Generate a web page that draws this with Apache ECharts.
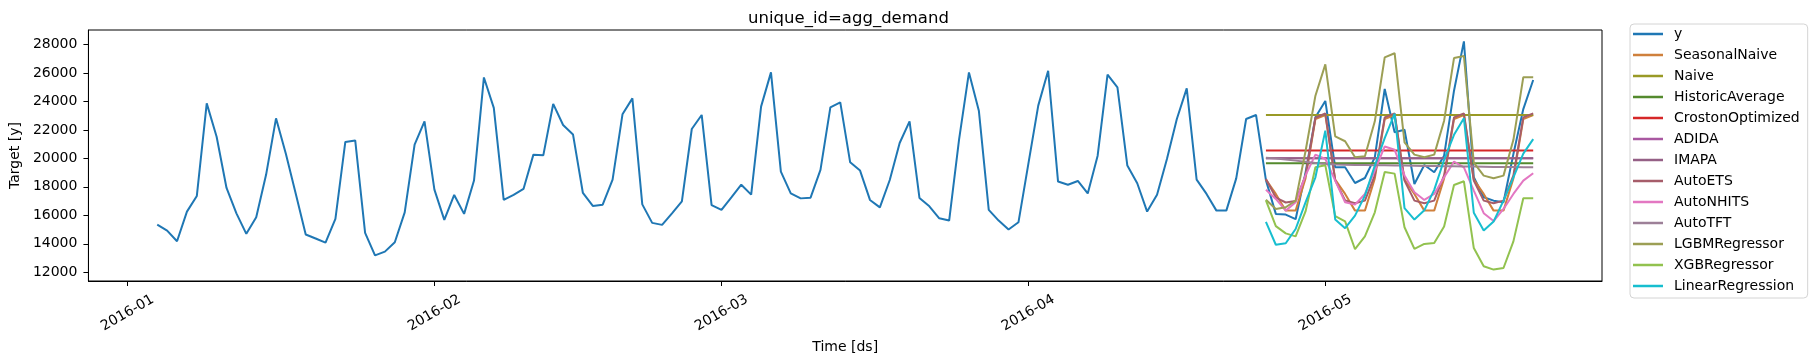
<!DOCTYPE html>
<html>
<head>
<meta charset="utf-8">
<script src="https://cdn.jsdelivr.net/npm/echarts@6/dist/echarts.min.js"></script>
<style>
html,body{margin:0;padding:0;background:#fff;}
#chart{width:1813px;height:361px;}
</style>
</head>
<body>
<div id="chart"></div>
<script>
// ---- data ----
const startDate = '2016-01-04';       // first observed day
const forecastStartIndex = 112;       // 2016-04-25

const xTickDates = ['2016-01-01','2016-02-01','2016-03-01','2016-04-01','2016-05-01'];
const xTickLabels = ['2016-01','2016-02','2016-03','2016-04','2016-05'];
const yTicks = [12000,14000,16000,18000,20000,22000,24000,26000,28000];

const y = [
15350,14930,14180,16260,17360,23860,21520,17920,16140,14700,
15860,18860,22810,20310,17500,14650,14370,14080,15750,21150,
21260,14770,13190,13450,14110,16210,20960,22600,17800,15680,
17430,16100,18440,25680,23540,17080,17430,17850,20260,20210,
23820,22340,21680,17570,16660,16750,18500,23090,24210,16770,
15470,15330,16140,16980,22060,23046,16715,16380,17260,18150,
17450,23630,26035,19070,17540,17190,17240,19190,23580,23930,
19720,19140,17080,16560,18480,21080,22600,17220,16630,15790,
15630,21310,26035,23350,16380,15630,15000,15510,19610,23700,
26150,18370,18150,18410,17540,20190,25870,24980,19490,18250,
16260,17450,19960,22765,24910,18505,17502,16330,16330,18596,
22765,23046,18470,16100,16050,15730,19000,22880,24030,19370,
19370,18270,18620,20070,24870,21830,22010,18200,19530,19020,
20190,24750,28210,18670,17270,17030,16920,20300,23460,25500
];

const SeasonalNaive = [
18505,17502,16330,16330,18596,22765,23046,
18505,17502,16330,16330,18596,22765,23046,
18505,17502,16330,16330,18596,22765,23046,
18505,17502,16330,16330,18596,22765,23046
];
const Naive = [
23046,23046,23046,23046,23046,23046,23046,23046,23046,23046,23046,23046,23046,23046,
23046,23046,23046,23046,23046,23046,23046,23046,23046,23046,23046,23046,23046,23046
];
const HistoricAverage = [
19650,19650,19650,19650,19650,19650,19650,19650,19650,19650,19650,19650,19650,19650,
19650,19650,19650,19650,19650,19650,19650,19650,19650,19650,19650,19650,19650,19650
];
const CrostonOptimized = [
20550,20550,20550,20550,20550,20550,20550,20550,20550,20550,20550,20550,20550,20550,
20550,20550,20550,20550,20550,20550,20550,20550,20550,20550,20550,20550,20550,20550
];
const ADIDA = [
20010,20010,20010,20010,20010,20010,20010,20010,20010,20010,20010,20010,20010,20010,
20010,20010,20010,20010,20010,20010,20010,20010,20010,20010,20010,20010,20010,20010
];
const IMAPA = [
20000,20000,20000,20000,20000,20000,20000,20000,20000,20000,20000,20000,20000,20000,
20000,20000,20000,20000,20000,20000,20000,20000,20000,20000,20000,20000,20000,20000
];
const AutoETS = [
18550,17250,16900,17000,18800,22850,23150,
18450,17050,16850,17030,18800,22880,23160,
18440,17030,16850,17030,18800,22880,23160,
18440,17030,16850,17030,18800,22880,23160
];
const AutoNHITS = [
17790,17150,16330,16915,18800,20260,19957,18435,16915,16751,17500,19137,20834,20600,
18800,17617,17079,17500,18670,19770,19372,17734,16150,15600,16448,17500,18435,18950
];
const AutoTFT = [
20050,19990,19920,19840,19760,19680,19610,19560,19550,19540,19530,19520,19510,19500,
19490,19480,19470,19460,19450,19440,19430,19420,19410,19400,19395,19390,19380,19370
];
const LGBMRegressor = [
17100,16450,16565,17033,20500,24400,26600,21550,21200,20074,20144,22600,27090,27380,
21125,20260,20073,20260,22646,27043,27180,19700,18787,18600,18787,21300,25700,25690
];
const XGBRegressor = [
17050,15240,14730,14520,16270,19371,19510,15945,15570,13620,14520,16214,19040,18927,
15161,13641,13992,14062,15220,18131,18389,13700,12424,12190,12300,14170,17196,17196
];
const LinearRegression = [
15535,13935,14038,15040,16915,18670,21944,15710,15100,15980,17380,19490,21420,23140,
16500,15700,16350,17790,19900,21650,22820,16180,14928,15570,17033,18670,20330,21350
];

const seriesNames = ['y','SeasonalNaive','Naive','HistoricAverage','CrostonOptimized','ADIDA','IMAPA',
  'AutoETS','AutoNHITS','AutoTFT','LGBMRegressor','XGBRegressor','LinearRegression'];
const forecasts = {SeasonalNaive, Naive, HistoricAverage, CrostonOptimized, ADIDA, IMAPA,
  AutoETS, AutoNHITS, AutoTFT, LGBMRegressor, XGBRegressor, LinearRegression};
const colors = ['#1f77b4','#cf803c','#999a26','#548a2e','#d62728','#a958a1','#956086',
  '#a65d6a','#e377c2','#9d8098','#9c9f55','#92c24f','#17becf'];

// ---- build ----
const DAY = 86400000;
function parseUTC(s){const p=s.split('-').map(Number);return Date.UTC(p[0],p[1]-1,p[2]);}
const t0 = parseUTC(startDate);
const times = y.map((_, i) => t0 + i*DAY);
const xTickValues = xTickDates.map(parseUTC);

const tFirst = times[0], tLast = times[times.length-1];
const xMin = tFirst - 0.05*(tLast - tFirst);
const xMax = tLast + 0.05*(tLast - tFirst);

let allVals = y.slice();
Object.values(forecasts).forEach(a => allVals = allVals.concat(a));
const vMin = Math.min(...allVals), vMax = Math.max(...allVals);
const yMin = vMin - 0.05*(vMax - vMin);
const yMax = vMax + 0.05*(vMax - vMin);

const series = [];
seriesNames.forEach((name, si) => {
  let data;
  if (name === 'y') data = y.map((v,i)=>[times[i], v]);
  else data = forecasts[name].map((v,k)=>[times[forecastStartIndex+k], v]);
  series.push({
    name, type:'line', data, symbol:'none', showSymbol:false,
    lineStyle:{width:2, color:colors[si]}, itemStyle:{color:colors[si]},
    emphasis:{disabled:true}, z: 2 + si*0.01
  });
});

const font = 'DejaVu Sans';
const chart = echarts.init(document.getElementById('chart'), null, {renderer:'canvas'});
chart.setOption({
  animation:false,
  backgroundColor:'#fff',
  color: colors,
  title:{
    text:'unique_id=agg_demand', left: 843.5, top: 5, textAlign:'center',
    textStyle:{fontFamily:font, fontSize:16.5, fontWeight:'normal', color:'#000'}
  },
  grid:{left:85, right:211, top:30, bottom:80, show:true, borderColor:'#000', borderWidth:1, containLabel:false},
  xAxis:{
    type:'value', min:xMin, max:xMax,
    name:'Time [ds]', nameLocation:'middle', nameGap:56,
    nameTextStyle:{fontFamily:font, fontSize:14, color:'#000'},
    axisLine:{show:true, lineStyle:{color:'#000', width:1}},
    axisTick:{show:true, length:5, lineStyle:{color:'#000', width:1}, customValues: xTickValues},
    axisLabel:{
      customValues: xTickValues, rotate:30, align:'center', verticalAlign:'middle', margin:32,
      fontFamily:font, fontSize:14, color:'#000',
      formatter: v => { const i = xTickValues.indexOf(v); return i >= 0 ? xTickLabels[i] : ''; }
    },
    splitLine:{show:false}
  },
  yAxis:{
    type:'value', min:yMin, max:yMax,
    name:'Target [y]', nameLocation:'middle', nameGap:62,
    nameTextStyle:{fontFamily:font, fontSize:14, color:'#000'},
    axisLine:{show:true, lineStyle:{color:'#000', width:1}},
    axisTick:{show:true, length:5, lineStyle:{color:'#000', width:1}, customValues: yTicks},
    axisLabel:{customValues: yTicks, margin:11, fontFamily:font, fontSize:14, color:'#000',
      formatter: v => String(v)},
    splitLine:{show:false}
  },
  legend:{
    orient:'vertical', left:1630, top:24,
    data: seriesNames,
    icon:'rect',
    itemWidth:30, itemHeight:2.5, itemGap:7,
    backgroundColor:'#fff', borderColor:'#d4d4d4', borderWidth:1, borderRadius:4,
    padding:[3,8,5,3],
    textStyle:{fontFamily:font, fontSize:14, lineHeight:14, color:'#000', padding:[0,0,0,6]},
    selectedMode:false
  },
  series
});
</script>
</body>
</html>
